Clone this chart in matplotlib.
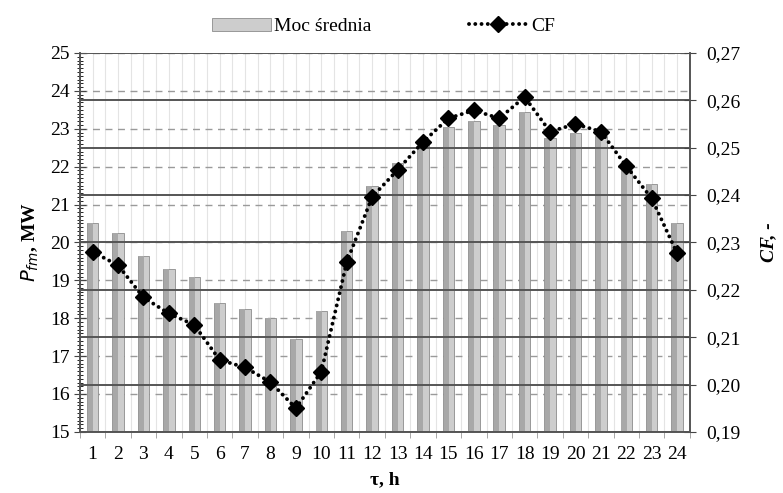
import matplotlib.pyplot as plt
import numpy as np
from matplotlib.ticker import MultipleLocator, FixedLocator

# hours
hours = list(range(1, 25))
# mean power, MW
moc_srednia = [20.5, 20.25, 19.65, 19.3, 19.1, 18.4, 18.25, 18.0, 17.45, 18.2, 20.3, 21.5,
               22.1, 22.6, 23.05, 23.2, 23.1, 23.45, 22.75, 22.9, 22.8, 21.9, 21.55, 20.5]
# capacity factor
cf = [0.228, 0.2252, 0.2184, 0.215, 0.2126, 0.2052, 0.2036, 0.2005, 0.195, 0.2027, 0.2258, 0.2396,
      0.2453, 0.2512, 0.2562, 0.2579, 0.2562, 0.2607, 0.2534, 0.255, 0.2534, 0.2461, 0.2393, 0.2277]
left_ticks = [15, 16, 17, 18, 19, 20, 21, 22, 23, 24, 25]
right_ticks = [0.19, 0.20, 0.21, 0.22, 0.23, 0.24, 0.25, 0.26, 0.27]

plt.rcParams['font.family'] = ['Liberation Serif', 'DejaVu Serif']

fig = plt.figure(figsize=(7.83, 4.93), dpi=100)
ax = fig.add_axes([0.102, 0.124, 0.779, 0.7685])
ax2 = ax.twinx()

x = np.array(hours)
ax.set_zorder(1)
ax2.set_zorder(2)
ax.patch.set_visible(False)

# faint vertical lines
for xv in np.arange(0.5, 25, 0.5):
    ax.axvline(xv, color='#e4e4e4', lw=0.8, zorder=0)
# dashed grid at left ticks
for yv in left_ticks:
    ax.axhline(yv, color='#9a9a9a', lw=1.0, ls=(0, (5, 4)), zorder=0.5)

bars = ax.bar(x, moc_srednia, width=0.45, color='#cdcdcd', edgecolor='#8c8c8c', lw=0.6,
              zorder=2, label='Moc średnia')
# shading of bars
for b in bars:
    xb, w, h = b.get_x(), b.get_width(), b.get_height()
    ax.bar(xb + w * 0.3, h - 15, bottom=15, width=w * 0.45, align='center', color='#a8a8a8',
           lw=0, zorder=2.1)

ax.set_xlim(0.5, 24.5)
ax.set_ylim(15, 25)
ax.set_xticks(hours)
ax.xaxis.set_minor_locator(FixedLocator(np.arange(0.5, 25, 0.5)))
ax.yaxis.set_major_locator(FixedLocator(left_ticks))
ax.yaxis.set_minor_locator(MultipleLocator(0.1))
ax.tick_params(axis='both', labelsize=14, direction='inout', color='#444444')
ax.tick_params(axis='y', which='major', length=8)
ax.tick_params(axis='y', which='minor', length=4, direction='inout')
ax.tick_params(axis='x', which='major', length=0, pad=10)
ax.tick_params(axis='x', which='minor', length=4, color='#999999')
ax.set_ylabel('$\\mathbf{\\mathit{P}}_{\\mathbf{\\mathit{fm}}}$, MW', fontsize=14, fontweight='bold',
              labelpad=6)
ax.set_xlabel('τ, h', fontsize=14, fontweight='bold', labelpad=6)

# solid grid at right ticks
ax2.set_ylim(0.19, 0.27)
ax2.yaxis.set_major_locator(FixedLocator(right_ticks))
for yv in right_ticks:
    ax2.axhline(yv, color='#555555', lw=1.4, zorder=1)
ax2.plot(x, cf, ls=(0, (0.01, 1.6)), lw=2.8, color='black', marker='D', markersize=8, zorder=3,
         label='CF', dash_capstyle='round')
ax2.set_yticklabels([('%.2f' % v).replace('.', ',') for v in right_ticks])
ax2.tick_params(axis='y', labelsize=14, direction='inout', length=8, color='#444444', pad=8)
ax2.set_ylabel('CF, -', fontsize=14, fontweight='bold', fontstyle='italic', labelpad=14)

for sp in ['top']:
    ax.spines[sp].set_visible(False)
    ax2.spines[sp].set_visible(False)
for a in (ax, ax2):
    for sp in a.spines.values():
        sp.set_color('#555555')
        sp.set_linewidth(1.2)

h1, l1 = ax.get_legend_handles_labels()
h2, l2 = ax2.get_legend_handles_labels()
fig.legend(h1 + h2, l1 + l2, loc='upper center', bbox_to_anchor=(0.49, 1.0), ncol=2,
           frameon=False, fontsize=14, handlelength=3.0, handletextpad=0.2, columnspacing=5.0)

fig.savefig('out.png', dpi=100)
